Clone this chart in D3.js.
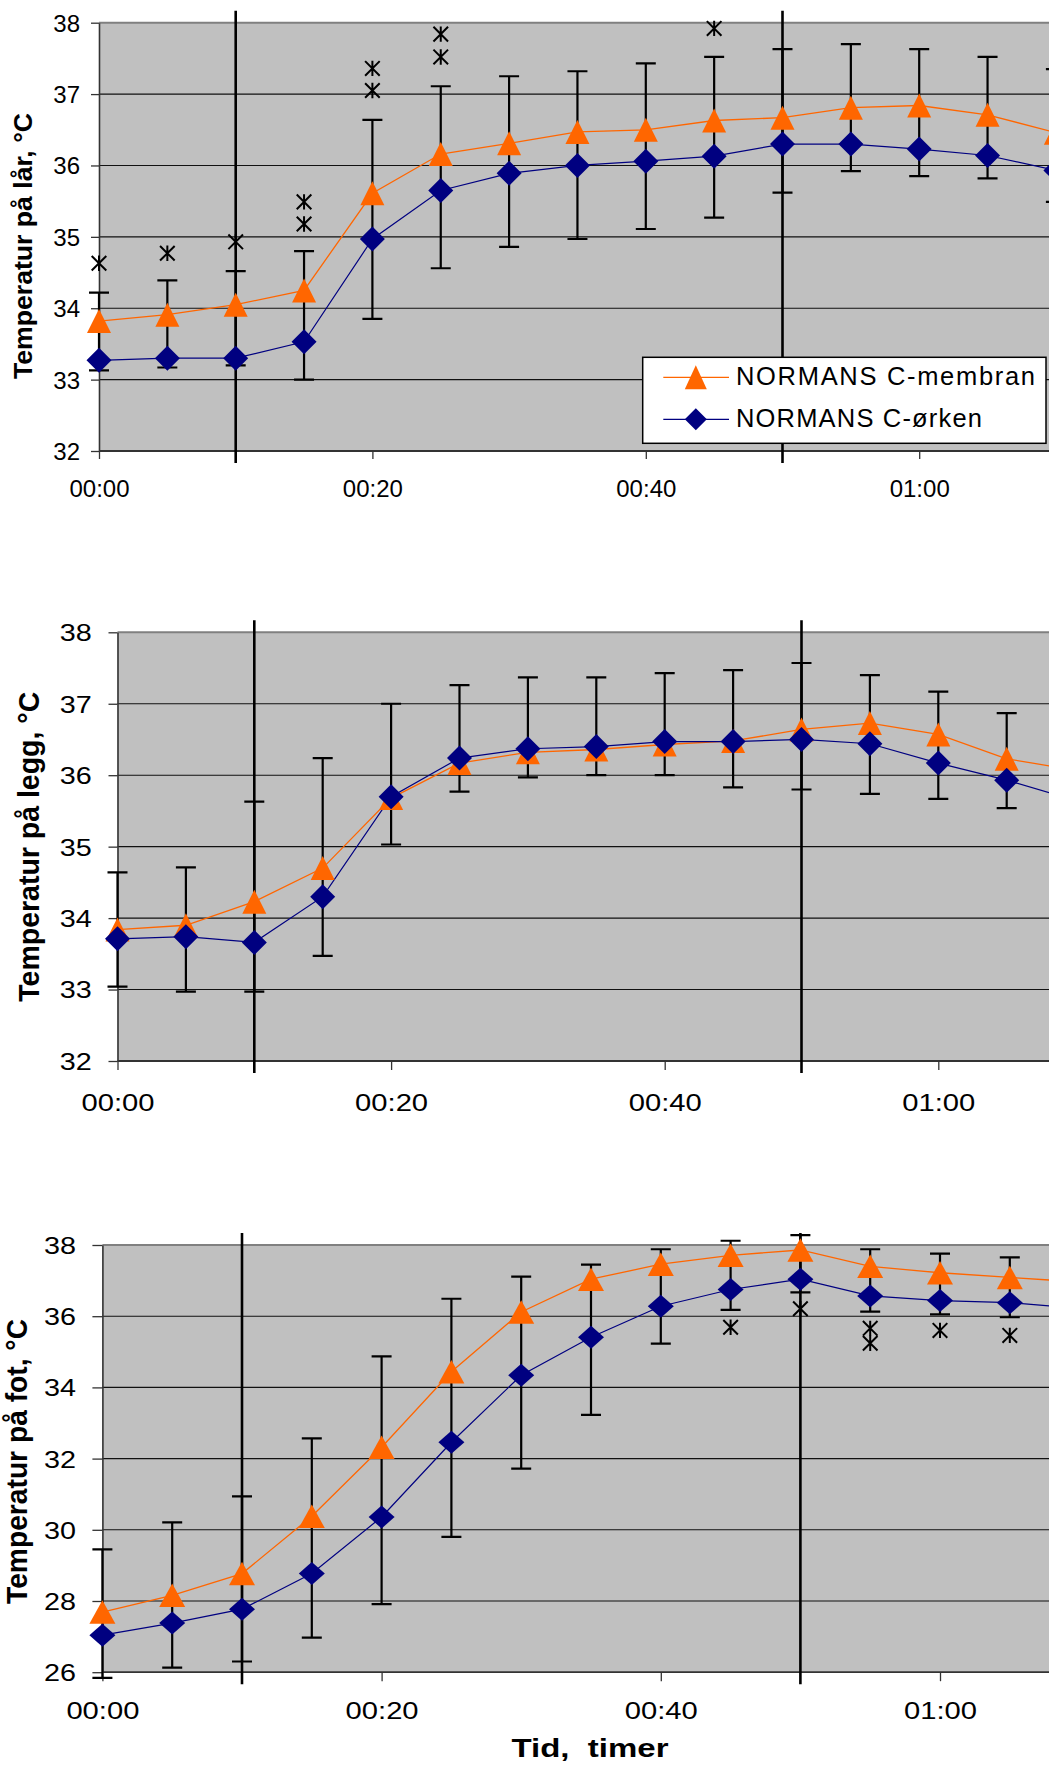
<!DOCTYPE html>
<html>
<head>
<meta charset="utf-8">
<script src="https://cdn.jsdelivr.net/npm/d3@7"></script>
<style>
  html, body { margin: 0; padding: 0; background: #fff; }
  svg { display: block; font-family: "Liberation Sans", Arial, sans-serif; }
</style>
</head>
<body>
<script>
// Sampling times in minutes after start
const times = [0, 5, 10, 15, 20, 25, 30, 35, 40, 45, 50, 55, 60, 65, 70];
const xTickValues = [0, 20, 40, 60];
const xTickLabels = ["00:00", "00:20", "00:40", "01:00"];
// Vertical reference lines (minutes)
const phaseMarks = [10, 50];

const seriesNames = ["NORMANS C-membran", "NORMANS C-ørken"];

// Thigh (lår)
const membranLar = [33.82, 33.91, 34.05, 34.25, 35.61, 36.16, 36.31, 36.47, 36.50, 36.63, 36.67, 36.81, 36.84, 36.71, 36.46];
const orkenLar   = [33.27, 33.30, 33.30, 33.53, 34.97, 35.65, 35.89, 36.00, 36.06, 36.13, 36.30, 36.30, 36.23, 36.14, 35.93];
const errHighLar = [34.22, 34.39, 34.52, 34.80, 36.64, 37.11, 37.25, 37.32, 37.43, 37.52, 37.63, 37.70, 37.63, 37.52, 37.35];
const errLowLar  = [33.13, 33.17, 33.20, 33.00, 33.85, 34.56, 34.86, 34.97, 35.11, 35.27, 35.62, 35.92, 35.85, 35.82, 35.49];
const starsLar = [[0, 34.63], [5, 34.77], [10, 34.93], [15, 35.18], [15, 35.49], [20, 37.05], [20, 37.36], [25, 37.52], [25, 37.84], [45, 37.92]];

// Calf (legg)
const membranLegg = [33.84, 33.90, 34.23, 34.70, 35.68, 36.17, 36.32, 36.36, 36.43, 36.48, 36.64, 36.73, 36.57, 36.23, 36.07];
const orkenLegg   = [33.71, 33.74, 33.66, 34.30, 35.70, 36.24, 36.37, 36.40, 36.47, 36.47, 36.50, 36.44, 36.17, 35.93, 35.65];
const errHighLegg = [34.64, 34.71, 35.63, 36.24, 37.00, 37.26, 37.37, 37.37, 37.43, 37.47, 37.57, 37.40, 37.17, 36.87, null];
const errLowLegg  = [33.04, 32.97, 32.97, 33.47, 35.03, 35.77, 35.97, 36.00, 36.00, 35.83, 35.80, 35.74, 35.67, 35.54, null];
const starsLegg = [];

// Foot (fot)
const membranFot = [27.69, 28.16, 28.77, 30.38, 32.32, 34.44, 36.12, 37.04, 37.46, 37.71, 37.86, 37.40, 37.22, 37.09, 36.96];
const orkenFot   = [27.04, 27.38, 27.77, 28.77, 30.36, 32.46, 34.34, 35.41, 36.28, 36.75, 37.04, 36.57, 36.44, 36.38, 36.22];
const errHighFot = [29.45, 30.21, 30.94, 32.57, 34.87, 36.49, 37.11, 37.45, 37.88, 38.12, 38.28, 37.88, 37.76, 37.65, null];
const errLowFot  = [25.84, 26.13, 26.30, 26.97, 27.91, 29.80, 31.72, 33.23, 35.23, 36.18, 36.67, 36.13, 36.05, 35.97, null];
const starsFot = [[45, 35.69], [50, 36.21], [55, 35.66], [55, 35.24], [60, 35.60], [65, 35.46]];

const yTicksLar = [32, 33, 34, 35, 36, 37, 38];
const yTicksLegg = [32, 33, 34, 35, 36, 37, 38];
const yTicksFot = [26, 28, 30, 32, 34, 36, 38];

const ORANGE = "#FF6600", NAVY = "#000080", PLOT_BG = "#C0C0C0";
const W = 1049, H = 1765;

const svg = d3.select("body").append("svg").attr("width", W).attr("height", H);

function trianglePath(cx, cy, w, h) {
  return `M${cx},${cy - h / 2}L${cx + w / 2},${cy + h / 2}L${cx - w / 2},${cy + h / 2}Z`;
}
function diamondPath(cx, cy, w, h) {
  return `M${cx},${cy - h / 2}L${cx + w / 2},${cy}L${cx},${cy + h / 2}L${cx - w / 2},${cy}Z`;
}
function starPath(cx, cy, r) {
  return `M${cx - r},${cy - r}L${cx + r},${cy + r}M${cx - r},${cy + r}L${cx + r},${cy - r}M${cx},${cy - r * 1.05}L${cx},${cy + r * 1.05}`;
}

function drawPanel(p) {
  const g = svg.append("g");
  const x = d3.scaleLinear().domain([0, 60]).range([p.left, p.left + 60 * p.pxPerMin]);
  const y = d3.scaleLinear().domain(p.yDomain).range([p.bottom, p.top]);
  const xEnd = x(80);

  // plot area
  g.append("rect").attr("x", x(0)).attr("y", y(p.yDomain[1]))
    .attr("width", xEnd - x(0)).attr("height", y(p.yDomain[0]) - y(p.yDomain[1]))
    .attr("fill", PLOT_BG);

  // horizontal gridlines
  g.append("g").selectAll("line").data(p.yTicks.slice(1, -1)).join("line")
    .attr("x1", x(0)).attr("x2", xEnd)
    .attr("y1", d => y(d)).attr("y2", d => y(d))
    .attr("stroke", "#111").attr("stroke-width", 1.1);
  // top border
  g.append("line").attr("x1", x(0)).attr("x2", xEnd)
    .attr("y1", y(p.yDomain[1])).attr("y2", y(p.yDomain[1]))
    .attr("stroke", "#808080").attr("stroke-width", 2);

  // y axis
  const yAxis = d3.axisLeft(y).tickValues(p.yTicks).tickSize(p.yTickLen).tickSizeOuter(0)
    .tickFormat(d3.format("d"));
  const ya = g.append("g").attr("transform", `translate(${x(0)},0)`).call(yAxis);
  ya.select(".domain").attr("stroke", "#333").attr("stroke-width", 1.6);
  ya.selectAll(".tick line").attr("stroke", "#333").attr("stroke-width", 1.3);
  ya.selectAll(".tick text")
    .attr("x", -(x(0) - p.yLabelRight)).attr("dy", "0.35em")
    .attr("font-size", 24).attr("fill", "#000")
    .attr("font-family", '"Liberation Sans", Arial, sans-serif');
  if (p.stretch) ya.selectAll(".tick text").attr("textLength", 32).attr("lengthAdjust", "spacingAndGlyphs");

  // x axis
  const xAxis = d3.axisBottom(x).tickValues(xTickValues).tickSize(p.xTickLen).tickSizeOuter(0)
    .tickFormat((d, i) => xTickLabels[i]);
  const xa = g.append("g").attr("transform", `translate(0,${y(p.yDomain[0])})`).call(xAxis);
  xa.select(".domain").attr("d", `M${x(0)},0H${xEnd}`).attr("stroke", "#333").attr("stroke-width", 1.8);
  xa.selectAll(".tick line").attr("stroke", "#333").attr("stroke-width", 1.3);
  xa.selectAll(".tick text")
    .attr("y", p.xLabelBaseline - y(p.yDomain[0])).attr("dy", 0)
    .attr("font-size", 24).attr("fill", "#000")
    .attr("font-family", '"Liberation Sans", Arial, sans-serif');
  if (p.stretch) xa.selectAll(".tick text").attr("textLength", 73).attr("lengthAdjust", "spacingAndGlyphs");

  // y title
  g.append("text")
    .attr("transform", `translate(${p.title.x},${p.title.y}) scale(${p.title.sx || 1},1) rotate(-90)`)
    .attr("text-anchor", "middle").attr("font-weight", "bold")
    .attr("font-size", p.title.size)
    .attr("textLength", p.title.len).attr("lengthAdjust", "spacingAndGlyphs")
    .text(p.title.text);

  // vertical reference lines
  g.append("g").selectAll("line").data(phaseMarks).join("line")
    .attr("x1", d => x(d)).attr("x2", d => x(d))
    .attr("y1", y(p.yDomain[1]) - 12).attr("y2", y(p.yDomain[0]) + 12)
    .attr("stroke", "#000").attr("stroke-width", 2.6);

  // error bars
  const errData = times.map((t, i) => ({ t, lo: p.errLow[i], hi: p.errHigh[i] }))
    .filter(d => d.lo != null && d.hi != null);
  const eb = g.append("g").attr("stroke", "#000").attr("stroke-width", 2.2).attr("fill", "none");
  eb.selectAll("path").data(errData).join("path")
    .attr("d", d => {
      const cx = x(d.t), c = p.capHalf;
      return `M${cx},${y(d.hi)}V${y(d.lo)}M${cx - c},${y(d.hi)}H${cx + c}M${cx - c},${y(d.lo)}H${cx + c}`;
    });

  // series lines
  const line = d3.line().x((d, i) => x(times[i])).y(d => y(d));
  g.append("path").datum(p.membran).attr("d", line)
    .attr("fill", "none").attr("stroke", ORANGE).attr("stroke-width", 1.3);
  g.append("path").datum(p.orken).attr("d", line)
    .attr("fill", "none").attr("stroke", NAVY).attr("stroke-width", 1.2);

  // markers
  g.append("g").selectAll("path").data(p.membran).join("path")
    .attr("d", (d, i) => trianglePath(x(times[i]), y(d), p.tri[0], p.tri[1]))
    .attr("fill", ORANGE);
  g.append("g").selectAll("path").data(p.orken).join("path")
    .attr("d", (d, i) => diamondPath(x(times[i]), y(d), p.dia[0], p.dia[1]))
    .attr("fill", NAVY);

  // significance asterisks
  g.append("g").selectAll("path").data(p.stars).join("path")
    .attr("d", d => starPath(x(d[0]), y(d[1]), 7.3))
    .attr("stroke", "#000").attr("stroke-width", 2).attr("fill", "none");

  return { g, x, y };
}

drawPanel({
  left: 99, pxPerMin: 13.67, top: 22.7, bottom: 451,
  yDomain: [32, 38], yTicks: yTicksLar, yTickLen: 8, xTickLen: 8, yLabelRight: 80,
  xLabelBaseline: 497.3, capHalf: 10,
  title: { x: 32, y: 246, len: 266, size: 26.5, text: "Temperatur på lår, °C" },
  membran: membranLar, orken: orkenLar, errHigh: errHighLar, errLow: errLowLar, stars: starsLar,
  tri: [24, 24], dia: [25, 25]
});

drawPanel({
  left: 117.5, pxPerMin: 13.68, top: 632.3, bottom: 1061,
  yDomain: [32, 38], yTicks: yTicksLegg, yTickLen: 9, xTickLen: 9, yLabelRight: 91.7,
  xLabelBaseline: 1111, capHalf: 10, stretch: true,
  title: { x: 39, y: 846.7, len: 310, size: 28, sx: 1.08, text: "Temperatur på legg, °C" },
  membran: membranLegg, orken: orkenLegg, errHigh: errHighLegg, errLow: errLowLegg, stars: starsLegg,
  tri: [24, 24], dia: [25, 25]
});

drawPanel({
  left: 102.4, pxPerMin: 13.96, top: 1245, bottom: 1672.2,
  yDomain: [26, 38], yTicks: yTicksFot, yTickLen: 10, xTickLen: 9, yLabelRight: 76,
  xLabelBaseline: 1719.5, capHalf: 10, stretch: true,
  title: { x: 27, y: 1461.5, len: 285, size: 27, sx: 1.12, text: "Temperatur på fot, °C" },
  membran: membranFot, orken: orkenFot, errHigh: errHighFot, errLow: errLowFot, stars: starsFot,
  tri: [26, 23.5], dia: [26, 23]
});

// x-axis title for the bottom panel
svg.append("text")
  .attr("x", 590).attr("y", 1757.3)
  .attr("text-anchor", "middle").attr("font-weight", "bold").attr("font-size", 26)
  .attr("textLength", 157).attr("lengthAdjust", "spacingAndGlyphs")
  .style("white-space", "pre")
  .text("Tid,  timer");

// legend (top panel)
const legend = svg.append("g");
legend.append("rect").attr("x", 642.7).attr("y", 357.3).attr("width", 403.3).attr("height", 86)
  .attr("fill", "#fff").attr("stroke", "#000").attr("stroke-width", 1.5);
const legendRows = [
  { name: seriesNames[0], color: ORANGE, y: 377.3, base: 385, len: 299, shape: "tri" },
  { name: seriesNames[1], color: NAVY, y: 419.3, base: 427.3, len: 246, shape: "dia" }
];
legendRows.forEach(r => {
  legend.append("line").attr("x1", 663.3).attr("x2", 729).attr("y1", r.y).attr("y2", r.y)
    .attr("stroke", r.color).attr("stroke-width", 1.3);
  legend.append("path")
    .attr("d", r.shape === "tri" ? trianglePath(695.8, r.y, 22, 24) : diamondPath(695.8, r.y, 22, 22))
    .attr("fill", r.color);
  legend.append("text").attr("x", 736).attr("y", r.base)
    .attr("font-size", 25.5).attr("fill", "#000")
    .attr("textLength", r.len).attr("lengthAdjust", "spacing")
    .text(r.name);
});
</script>
</body>
</html>
